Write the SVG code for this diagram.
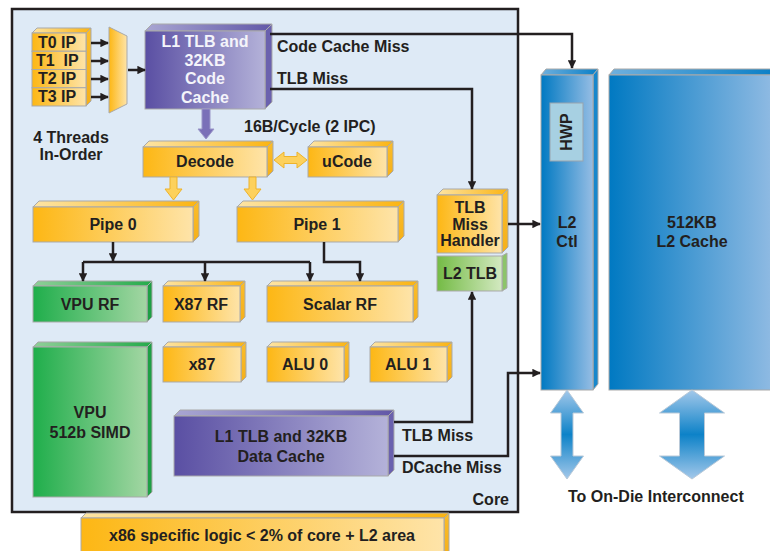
<svg xmlns="http://www.w3.org/2000/svg" width="770" height="551" viewBox="0 0 770 551">
  <defs>
    <linearGradient id="goldF" x1="0" y1="0" x2="1" y2="0">
      <stop offset="0" stop-color="#fdb714"/>
      <stop offset="1" stop-color="#fee4a9"/>
    </linearGradient>
    <linearGradient id="goldT" x1="0" y1="0" x2="1" y2="0">
      <stop offset="0" stop-color="#fde4a4"/>
      <stop offset="1" stop-color="#fbb412"/>
    </linearGradient>
    <linearGradient id="goldS" x1="0" y1="0" x2="0" y2="1">
      <stop offset="0" stop-color="#fbbd2a"/>
      <stop offset="1" stop-color="#f5b01a"/>
    </linearGradient>
    <linearGradient id="purF" x1="0" y1="0" x2="1" y2="0">
      <stop offset="0" stop-color="#5a4fa3"/>
      <stop offset="1" stop-color="#b4b2d9"/>
    </linearGradient>
    <linearGradient id="purT" x1="0" y1="0" x2="1" y2="0">
      <stop offset="0" stop-color="#a9a6d2"/>
      <stop offset="1" stop-color="#6258a8"/>
    </linearGradient>
    <linearGradient id="grnF" x1="0" y1="0" x2="1" y2="0">
      <stop offset="0" stop-color="#1fae4b"/>
      <stop offset="1" stop-color="#a3d6a3"/>
    </linearGradient>
    <linearGradient id="grnT" x1="0" y1="0" x2="1" y2="0">
      <stop offset="0" stop-color="#8fcf98"/>
      <stop offset="1" stop-color="#25ab4b"/>
    </linearGradient>
    <linearGradient id="lgrF" x1="0" y1="0" x2="1" y2="0">
      <stop offset="0" stop-color="#74bb45"/>
      <stop offset="1" stop-color="#d3e9c1"/>
    </linearGradient>
    <linearGradient id="bluF" x1="0" y1="0" x2="1" y2="0">
      <stop offset="0" stop-color="#0079c2"/>
      <stop offset="1" stop-color="#95bde4"/>
    </linearGradient>
    <linearGradient id="bluT" x1="0" y1="0" x2="1" y2="0">
      <stop offset="0" stop-color="#6fb0de"/>
      <stop offset="1" stop-color="#0a7fc6"/>
    </linearGradient>
    <linearGradient id="bluA" x1="0" y1="0" x2="0" y2="1">
      <stop offset="0" stop-color="#a3c8ea"/>
      <stop offset="0.5" stop-color="#0d82c8"/>
      <stop offset="1" stop-color="#a3c8ea"/>
    </linearGradient>
    <marker id="ah" viewBox="0 0 10 10" refX="9" refY="5" markerWidth="3.4" markerHeight="3.4" orient="auto" markerUnits="strokeWidth">
      <path d="M0,0 L10,5 L0,10 Z" fill="#231f20"/>
    </marker>
    <style>
      .face { stroke: #a9a9a9; stroke-width: 1; }
      .gF { fill: url(#goldF); } .gT { fill: url(#goldT); } .gS { fill: url(#goldS); }
      .pF { fill: url(#purF); } .pT { fill: url(#purT); } .pS { fill: #6a61ae; }
      .vF { fill: url(#grnF); } .vT { fill: url(#grnT); } .vS { fill: #1e9f45; }
      .lF { fill: url(#lgrF); } .lT { fill: #a9d68a; } .lS { fill: #8cc46a; }
      .bF { fill: url(#bluF); } .bT { fill: url(#bluT); } .bS { fill: #1787cc; }
      text { font-family: "Liberation Sans", Arial, sans-serif; font-weight: bold; font-size: 16px; fill: #231f20; }
      .c { text-anchor: middle; }
      .w { fill: #f4f4fa; }
      .wire { fill: none; stroke: #231f20; stroke-width: 2.5; }
      .tip { marker-end: url(#ah); }
      .ya { fill: #fdd15c; stroke: #eeb32a; stroke-width: 1; }
      .pa { fill: #7a70b8; stroke: #9a96c8; stroke-width: 1; }
      .ba { fill: url(#bluA); stroke: #b9c9d8; stroke-width: 1; }
    </style>
  </defs>

  <!-- core outline -->
  <g id="core">
    <rect x="12" y="9" width="506" height="503" fill="#deeaf6" stroke="#231f20" stroke-width="2.5"/>
    <text x="509" y="505" text-anchor="end">Core</text>
  </g>

  <!-- thread instruction pointers -->
  <g id="thread-ips">
    <polygon class="face gT" points="32,33 37,28 91,28 86,33"/>
    <polygon class="face gS" points="86,33 91,28 91,101 86,106"/>
    <rect class="face gF" x="32" y="33" width="54" height="18.25"/>
    <rect class="face gF" x="32" y="51.25" width="54" height="18.25"/>
    <rect class="face gF" x="32" y="69.5" width="54" height="18.25"/>
    <rect class="face gF" x="32" y="87.75" width="54" height="18.25"/>
    <text x="38" y="48">T0 IP</text>
    <text x="36" y="66" xml:space="preserve">T1  IP</text>
    <text x="38" y="84">T2 IP</text>
    <text x="38" y="102">T3 IP</text>
  </g>
  <g id="threads-label">
    <text class="c" x="71" y="143">4 Threads</text>
    <text class="c" x="71" y="160">In-Order</text>
  </g>

  <g id="mux">
    <polygon class="face gF" points="109,27 127,36 127,104 109,113"/>
  </g>

  <g id="code-cache">
    <polygon class="face pT" points="145,31 152,24 272,24 265,31"/>
    <polygon class="face pS" points="265,31 272,24 272,102 265,109"/>
    <rect class="face pF" x="145" y="31" width="120" height="78"/>
    <text class="c w" x="205" y="47">L1 TLB and</text>
    <text class="c w" x="205" y="66">32KB</text>
    <text class="c w" x="205" y="84">Code</text>
    <text class="c w" x="205" y="103">Cache</text>
  </g>

  <g id="fetch-label">
    <text x="244" y="132">16B/Cycle (2 IPC)</text>
  </g>

  <g id="decode">
    <polygon class="face gT" points="143,147 149,141 273,141 267,147"/>
    <polygon class="face gS" points="267,147 273,141 273,171 267,177"/>
    <rect class="face gF" x="143" y="147" width="124" height="30"/>
    <text class="c" x="205" y="167">Decode</text>
  </g>

  <g id="ucode">
    <polygon class="face gT" points="308,147 314,141 393,141 387,147"/>
    <polygon class="face gS" points="387,147 393,141 393,171 387,177"/>
    <rect class="face gF" x="308" y="147" width="79" height="30"/>
    <text class="c" x="347" y="167">uCode</text>
  </g>

  <g id="pipe0">
    <polygon class="face gT" points="33,207 39,201 199,201 193,207"/>
    <polygon class="face gS" points="193,207 199,201 199,236 193,242"/>
    <rect class="face gF" x="33" y="207" width="160" height="35"/>
    <text class="c" x="113" y="230">Pipe 0</text>
  </g>

  <g id="pipe1">
    <polygon class="face gT" points="237,207 243,201 404,201 398,207"/>
    <polygon class="face gS" points="398,207 404,201 404,236 398,242"/>
    <rect class="face gF" x="237" y="207" width="161" height="35"/>
    <text class="c" x="317" y="230">Pipe 1</text>
  </g>

  <g id="vpu-rf">
    <polygon class="face vT" points="33,286 38,281 152,281 147,286"/>
    <polygon class="face vS" points="147,286 152,281 152,317 147,322"/>
    <rect class="face vF" x="33" y="286" width="114" height="36"/>
    <text class="c" x="90" y="310">VPU RF</text>
  </g>

  <g id="x87-rf">
    <polygon class="face gT" points="163,286 168,281 245,281 240,286"/>
    <polygon class="face gS" points="240,286 245,281 245,317 240,322"/>
    <rect class="face gF" x="163" y="286" width="77" height="36"/>
    <text class="c" x="201" y="310">X87 RF</text>
  </g>

  <g id="scalar-rf">
    <polygon class="face gT" points="267,286 272,281 418,281 413,286"/>
    <polygon class="face gS" points="413,286 418,281 418,317 413,322"/>
    <rect class="face gF" x="267" y="286" width="146" height="36"/>
    <text class="c" x="340" y="310">Scalar RF</text>
  </g>

  <g id="tlb-miss-handler">
    <polygon class="face gT" points="437,195 443,189 508,189 502,195"/>
    <polygon class="face gS" points="502,195 508,189 508,247 502,253"/>
    <rect class="face gF" x="437" y="195" width="65" height="58"/>
    <text class="c" x="470" y="213">TLB</text>
    <text class="c" x="470" y="230">Miss</text>
    <text class="c" x="470" y="246">Handler</text>
  </g>

  <g id="l2-tlb">
    <polygon class="face lS" points="502,256 507,253 507,288 502,291"/>
    <rect class="face lF" x="437" y="256" width="65" height="35"/>
    <text class="c" x="470" y="279">L2 TLB</text>
  </g>

  <g id="vpu">
    <polygon class="face vT" points="33,347 38,342 152,342 147,347"/>
    <polygon class="face vS" points="147,347 152,342 152,492 147,497"/>
    <rect class="face vF" x="33" y="347" width="114" height="150"/>
    <text class="c" x="90" y="418">VPU</text>
    <text class="c" x="90" y="438">512b SIMD</text>
  </g>

  <g id="x87">
    <polygon class="face gT" points="163,347 168,342 246,342 241,347"/>
    <polygon class="face gS" points="241,347 246,342 246,377 241,382"/>
    <rect class="face gF" x="163" y="347" width="78" height="35"/>
    <text class="c" x="202" y="370">x87</text>
  </g>

  <g id="alu0">
    <polygon class="face gT" points="267,347 272,342 349,342 344,347"/>
    <polygon class="face gS" points="344,347 349,342 349,377 344,382"/>
    <rect class="face gF" x="267" y="347" width="77" height="35"/>
    <text class="c" x="305" y="370">ALU 0</text>
  </g>

  <g id="alu1">
    <polygon class="face gT" points="370,347 375,342 452,342 447,347"/>
    <polygon class="face gS" points="447,347 452,342 452,377 447,382"/>
    <rect class="face gF" x="370" y="347" width="77" height="35"/>
    <text class="c" x="408" y="370">ALU 1</text>
  </g>

  <g id="data-cache">
    <polygon class="face pT" points="174,416 180,410 394,410 388,416"/>
    <polygon class="face pS" points="388,416 394,410 394,470 388,476"/>
    <rect class="face pF" x="174" y="416" width="214" height="60"/>
    <text class="c" x="281" y="442">L1 TLB and 32KB</text>
    <text class="c" x="281" y="462">Data Cache</text>
  </g>

  <g id="l2-ctl">
    <polygon class="face bT" points="541,75 546,69 598,69 593,75"/>
    <polygon class="face bS" points="593,75 598,69 598,384 593,390"/>
    <rect class="face bF" x="541" y="75" width="52" height="315"/>
    <rect x="550" y="103" width="33" height="58" fill="#a7d0e2" stroke="#9aa4ad" stroke-width="1"/>
    <text class="c" font-size="15" transform="translate(571.5,132) rotate(-90)">HWP</text>
    <text class="c" x="567" y="228">L2</text>
    <text class="c" x="567" y="247">Ctl</text>
  </g>

  <g id="l2-cache">
    <polygon class="face bT" points="609,75 614,69 776,69 776,75"/>
    <rect class="face bF" x="609" y="75" width="170" height="315"/>
    <text class="c" x="692" y="228">512KB</text>
    <text class="c" x="692" y="247">L2 Cache</text>
  </g>

  <g id="x86-logic">
    <polygon class="face gT" points="81,518 86,513 449,513 444,518"/>
    <polygon class="face gS" points="444,518 449,513 449,556 444,556"/>
    <rect class="face gF" x="81" y="518" width="363" height="40"/>
    <text class="c" x="262" y="541">x86 specific logic &lt; 2% of core + L2 area</text>
  </g>

  <g id="interconnect-label">
    <text x="568" y="502">To On-Die Interconnect</text>
  </g>

  <!-- connectors -->
  <g id="connectors">
    <!-- thread IPs into the mux, mux into the code cache -->
    <path class="wire tip" d="M91,43 H108"/>
    <path class="wire tip" d="M91,61 H108"/>
    <path class="wire tip" d="M91,79 H108"/>
    <path class="wire tip" d="M91,97 H108"/>
    <path class="wire tip" d="M128,70 H145"/>

    <!-- code cache misses -->
    <path class="wire tip" d="M270,34 H572 V68"/>
    <path class="wire tip" d="M270,89 H472 V189"/>

    <!-- fat flow arrows -->
    <polygon class="pa" points="202,109 210,109 210,129 214,129 206,139 198,129 202,129"/>
    <polygon class="ya" points="274,160 284,152 284,156.5 297,156.5 297,152 307,160 297,168 297,163.5 284,163.5 284,168"/>
    <polygon class="ya" points="170,177 177,177 177,189 182,189 173.5,200 165,189 170,189"/>
    <polygon class="ya" points="249,177 256,177 256,189 261,189 252.5,200 244,189 249,189"/>

    <!-- issue to register files -->
    <path class="wire tip" d="M113,242 V261"/>
    <path class="wire tip" d="M83,262 V281"/>
    <path class="wire" d="M83,262 H310"/>
    <path class="wire tip" d="M205,262 V281"/>
    <path class="wire tip" d="M310,262 V281"/>
    <path class="wire tip" d="M324,242 V262 H360 V281"/>

    <!-- miss handling toward L2 -->
    <path class="wire tip" d="M508,224 H540"/>
    <path class="wire tip" d="M394,422 H472 V292"/>
    <path class="wire tip" d="M394,456 H508 V373 H540"/>

    <!-- L2 to interconnect -->
    <polygon class="ba" points="567,390 583.5,413 573,413 573,456 583.5,456 567,479 550.5,456 561,456 561,413 550.5,413"/>
    <polygon class="ba" points="692,390 724.5,413 704.5,413 704.5,456 724.5,456 692,479 659.5,456 679.5,456 679.5,413 659.5,413"/>
  </g>

  <g id="connector-labels">
    <text x="277" y="52">Code Cache Miss</text>
    <text x="277" y="84">TLB Miss</text>
    <text x="402" y="441">TLB Miss</text>
    <text x="402" y="473">DCache Miss</text>
  </g>
</svg>
